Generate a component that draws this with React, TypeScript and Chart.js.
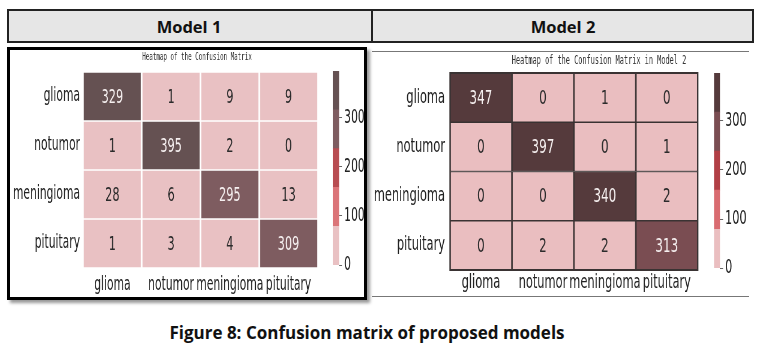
import React, { useEffect, useRef } from 'react';
import { Chart, registerables } from 'chart.js';
Chart.register(...registerables);

const classLabels = ['glioma', 'notumor', 'meningioma', 'pituitary'];
const model1Glioma = [329, 1, 9, 9];
const model1Notumor = [1, 395, 2, 0];
const model1Meningioma = [28, 6, 295, 13];
const model1Pituitary = [1, 3, 4, 309];
const model2Glioma = [347, 0, 1, 0];
const model2Notumor = [0, 397, 0, 1];
const model2Meningioma = [0, 0, 340, 2];
const model2Pituitary = [0, 2, 2, 313];
const colorbarTicks = [0, 100, 200, 300];
const model1Max = 395;
const model2Max = 397;
const palette1 = ['#e9c1c3', '#db7478', '#b84c51', '#7e5c60', '#655152'];
const palette2 = ['#eabec0', '#d96b70', '#b13f45', '#7a4d52', '#553a3c'];

const model1Rows = [model1Glioma, model1Notumor, model1Meningioma, model1Pituitary];
const model2Rows = [model2Glioma, model2Notumor, model2Meningioma, model2Pituitary];

const S1 = 0.565;
const S2 = 0.6;

function levelOf(v: number, max: number, n: number) {
  return Math.min(n - 1, Math.floor(v / (max / n)));
}

type Box = { x: number; y: number; w: number; h: number };
type Area = { l: number; t: number; r: number; b: number };

function Heatmap(props: {
  rows: number[][]; max: number; palette: string[]; s: number; box: Box; area: Area;
  gridColor: string; gridPx: number; frame: boolean; title: string; titleX: number; titleY: number;
  titleSize: number; xPad: number; yPad: number;
}) {
  const { rows, max, palette, s, box, area, gridColor, gridPx, frame, title, titleX, titleY, titleSize, xPad, yPad } = props;
  const ref = useRef<HTMLCanvasElement>(null);
  const iw = Math.round(box.w / s);
  useEffect(() => {
    const canvas = ref.current!;
    const cellText = {
      id: 'cellText',
      afterDatasetsDraw(chart: any) {
        const ctx = chart.ctx;
        ctx.save();
        ctx.textAlign = 'center';
        ctx.textBaseline = 'middle';
        ctx.font = '20px "DejaVu Sans"';
        chart.data.datasets.forEach((_ds: any, di: number) => {
          const meta = chart.getDatasetMeta(di);
          meta.data.forEach((el: any, i: number) => {
            const p = el.getProps(['x', 'y', 'base'], true);
            const v = rows[di][i];
            ctx.fillStyle = levelOf(v, max, palette.length) >= 3 ? '#f6f0f0' : '#2b2b2b';
            ctx.fillText(String(v), p.x, (p.y + p.base) / 2 + 1);
          });
        });
        if (frame) {
          const a = chart.chartArea;
          ctx.strokeStyle = gridColor;
          ctx.lineWidth = 2;
          ctx.strokeRect(a.left, a.top, a.right - a.left, a.bottom - a.top);
        }
        ctx.font = `${titleSize}px "DejaVu Sans Mono"`;
        ctx.fillStyle = '#333333';
        ctx.fillText(title, titleX / s, titleY);
        ctx.restore();
      },
    };
    const half = gridPx / 2;
    const chart = new Chart(canvas, {
      type: 'bar',
      data: {
        labels: classLabels,
        datasets: rows.map((row, r) => ({
          label: classLabels[r],
          data: row.map(() => 1),
          backgroundColor: row.map((v) => palette[levelOf(v, max, palette.length)]),
          borderColor: gridColor,
          borderWidth: { top: half, bottom: half, left: half / s, right: half / s },
          borderSkipped: false,
          barPercentage: 1,
          categoryPercentage: 1,
        })),
      },
      options: {
        responsive: false,
        animation: false,
        layout: { padding: { left: 0, right: (box.w - area.r) / s, top: area.t, bottom: 0 } },
        plugins: { legend: { display: false }, tooltip: { enabled: false }, title: { display: false } },
        scales: {
          x: {
            type: 'category',
            stacked: true,
            grid: { display: false, drawTicks: false },
            border: { display: false },
            ticks: { font: { family: 'DejaVu Sans', size: 19 }, color: '#222', padding: xPad, maxRotation: 0, minRotation: 0, autoSkip: false },
            afterFit: (ax: any) => { ax.height = box.h - area.b; },
          },
          y: {
            type: 'linear',
            stacked: true,
            reverse: true,
            min: 0,
            max: rows.length,
            afterBuildTicks: (ax: any) => { ax.ticks = rows.map((_r, i) => ({ value: i + 0.5 })); },
            grid: { display: false, drawTicks: false },
            border: { display: false },
            ticks: {
              font: { family: 'DejaVu Sans', size: 19 }, color: '#222', padding: yPad / s, autoSkip: false,
              callback: (v: any) => classLabels[Math.floor(Number(v))],
            },
            afterFit: (ax: any) => { ax.width = area.l / s; },
          },
        },
      } as any,
      plugins: [cellText],
    });
    return () => chart.destroy();
  }, []);
  return (
    <div style={{ position: 'absolute', left: box.x, top: box.y, width: iw, height: box.h, transform: `scaleX(${s})`, transformOrigin: '0 0' }}>
      <canvas ref={ref} width={iw} height={box.h} style={{ display: 'block' }} />
    </div>
  );
}

function Colorbar(props: { max: number; palette: string[]; s: number; box: Box; area: Area }) {
  const { max, palette, s, box, area } = props;
  const ref = useRef<HTMLCanvasElement>(null);
  const iw = Math.round(box.w / s);
  useEffect(() => {
    const canvas = ref.current!;
    const chart = new Chart(canvas, {
      type: 'bar',
      data: {
        labels: [''],
        datasets: palette.map((c) => ({
          data: [max / palette.length],
          backgroundColor: c,
          borderWidth: 0,
          barPercentage: 1,
          categoryPercentage: 1,
        })),
      },
      options: {
        responsive: false,
        animation: false,
        layout: { padding: { left: area.l / s, right: 0, top: area.t, bottom: box.h - area.b } },
        plugins: { legend: { display: false }, tooltip: { enabled: false } },
        scales: {
          x: { display: false, stacked: true },
          y: {
            stacked: true,
            position: 'right',
            min: 0,
            max,
            afterBuildTicks: (ax: any) => { ax.ticks = colorbarTicks.map((v) => ({ value: v })); },
            ticks: { font: { family: 'DejaVu Sans', size: 19 }, color: '#222', padding: 2 / s },
            grid: { display: true, drawOnChartArea: false, drawTicks: true, tickLength: 3 / s, color: '#666', lineWidth: 1 },
            border: { display: false },
            afterFit: (ax: any) => { ax.width = (box.w - area.r) / s; },
          },
        },
      } as any,
    });
    return () => chart.destroy();
  }, []);
  return (
    <div style={{ position: 'absolute', left: box.x, top: box.y, width: iw, height: box.h, transform: `scaleX(${s})`, transformOrigin: '0 0' }}>
      <canvas ref={ref} width={iw} height={box.h} style={{ display: 'block' }} />
    </div>
  );
}

export default function App() {
  const headFont = '"Open Sans", "Noto Sans", sans-serif';
  return (
    <div style={{ position: 'absolute', left: 0, top: 0, width: 761, height: 351, background: '#fff', overflow: 'hidden' }}>
      {/* header table */}
      <div style={{ position: 'absolute', left: 7, top: 9, width: 747, height: 34, border: '2px solid #222', background: '#e6e6e6', boxSizing: 'border-box' }} />
      <div style={{ position: 'absolute', left: 371, top: 9, width: 2, height: 34, background: '#222' }} />
      <div style={{ position: 'absolute', left: 7, top: 9, width: 364, height: 34, display: 'flex', alignItems: 'center', justifyContent: 'center', fontFamily: headFont, fontWeight: 700, fontSize: 16.5, color: '#111' }}>Model 1</div>
      <div style={{ position: 'absolute', left: 373, top: 9, width: 380, height: 34, display: 'flex', alignItems: 'center', justifyContent: 'center', fontFamily: headFont, fontWeight: 700, fontSize: 16.5, color: '#111' }}>Model 2</div>

      {/* model 1 panel */}
      <div style={{ position: 'absolute', left: 7, top: 47, width: 360, height: 253, border: '3px solid #000', boxShadow: '3px 3px 3px #999', boxSizing: 'border-box', background: '#fff' }} />
      <Heatmap rows={model1Rows} max={model1Max} palette={palette1} s={S1}
        box={{ x: 10, y: 48, w: 312, h: 247 }} area={{ l: 73, t: 24, r: 308, b: 220 }}
        gridColor="#ffffff" gridPx={2} frame={false}
        title="Heatmap of the Confusion Matrix" titleX={187} titleY={9} titleSize={10.4} xPad={6} yPad={3} />
      <Colorbar max={model1Max} palette={palette1} s={S1}
        box={{ x: 328, y: 55, w: 36, h: 225 }} area={{ l: 5, t: 16, r: 11, b: 215 }} />

      {/* model 2 panel */}
      <div style={{ position: 'absolute', left: 372, top: 51, width: 377, height: 1, background: '#777' }} />
      <div style={{ position: 'absolute', left: 372, top: 296, width: 377, height: 1, background: '#777' }} />
      <Heatmap rows={model2Rows} max={model2Max} palette={palette2} s={S2}
        box={{ x: 370, y: 50, w: 332, h: 246 }} area={{ l: 80, t: 23, r: 328, b: 220 }}
        gridColor="#3a3333" gridPx={2} frame={true}
        title="Heatmap of the Confusion Matrix in Model 2" titleX={229} titleY={11} titleSize={11.5} xPad={2} yPad={5} />
      <Colorbar max={model2Max} palette={palette2} s={S2}
        box={{ x: 709, y: 58, w: 45, h: 225 }} area={{ l: 5, t: 15, r: 11, b: 214 }} />

      {/* caption */}
      <div style={{ position: 'absolute', left: 0, top: 322, width: 734, height: 22, textAlign: 'center', fontFamily: headFont, fontWeight: 700, fontSize: 17, color: '#111', lineHeight: '22px' }}>Figure 8: Confusion matrix of proposed models</div>
    </div>
  );
}
